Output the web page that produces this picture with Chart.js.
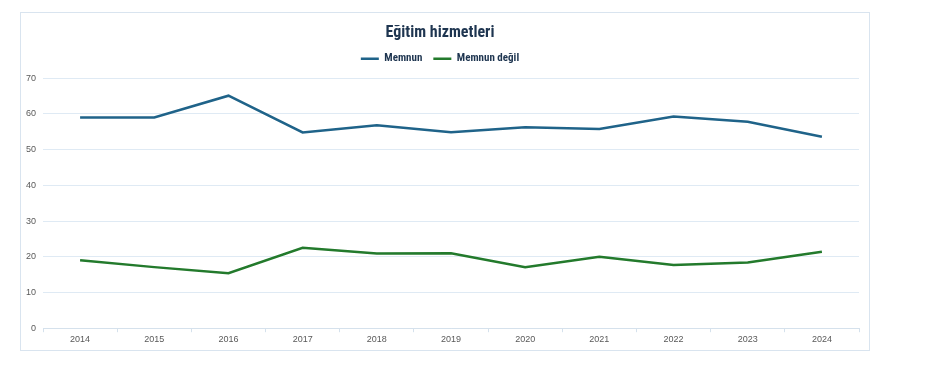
<!DOCTYPE html>
<html>
<head>
<meta charset="utf-8">
<script src="https://cdn.jsdelivr.net/npm/chart.js@4.4.1/dist/chart.umd.min.js"></script>
<style>
  html, body { margin: 0; padding: 0; background: #ffffff; }
  body { width: 948px; height: 368px; position: relative; overflow: hidden; }
  #box { position: absolute; left: 20px; top: 12px; width: 850px; height: 339px; box-sizing: border-box; border: 1px solid #d9e4ef; background: #fff; }
  #wrap { position: absolute; left: 0; top: 0; width: 848px; height: 337px; }
</style>
</head>
<body>
<div id="box"><div id="wrap"><canvas id="c" width="848" height="337"></canvas></div></div>
<script>
const chartTitle = "Eğitim hizmetleri";
const years = ["2014","2015","2016","2017","2018","2019","2020","2021","2022","2023","2024"];
const seriesNames = ["Memnun", "Memnun değil"];
const memnun = [59.0, 59.0, 65.1, 54.8, 56.8, 54.9, 56.3, 55.8, 59.3, 57.8, 53.6];
const memnunDegil = [19.0, 17.1, 15.4, 22.5, 20.9, 21.0, 17.1, 20.0, 17.7, 18.4, 21.4];
const yTicks = [0, 10, 20, 30, 40, 50, 60, 70];

const condensed = "'Liberation Sans Narrow', 'Roboto Condensed', 'DejaVu Sans Condensed', 'Arial Narrow', sans-serif";
const tickFont = "'Liberation Sans', Arial, sans-serif";

const legendGap = {
  id: 'legendGap',
  afterInit(chart) {
    const lg = chart.legend;
    if (!lg) return;
    const orig = lg.fit;
    lg.fit = function () { orig.call(this); this.height += 4; };
  }
};

new Chart(document.getElementById('c'), {
  type: 'line',
  data: {
    labels: years,
    datasets: [
      { label: seriesNames[0], data: memnun, borderColor: '#1f6389', backgroundColor: '#1f6389', borderWidth: 2.5, pointRadius: 0, tension: 0 },
      { label: seriesNames[1], data: memnunDegil, borderColor: '#237a2c', backgroundColor: '#237a2c', borderWidth: 2.5, pointRadius: 0, tension: 0 }
    ]
  },
  options: {
    responsive: false,
    animation: false,
    layout: { padding: { left: 0, right: 10, top: 8, bottom: 3 } },
    plugins: {
      title: {
        display: true, text: chartTitle, color: '#1e3550',
        font: { family: condensed, size: 16, weight: 'bold' },
        padding: { top: 2, bottom: 0 }
      },
      legend: {
        display: true, position: 'top',
        labels: {
          usePointStyle: true, pointStyle: 'line', pointStyleWidth: 18,
          color: '#1e3550', font: { family: condensed, size: 11, weight: 'bold' },
          padding: 11, boxHeight: 8
        }
      },
      tooltip: { enabled: false }
    },
    scales: {
      x: {
        offset: true,
        grid: { display: true, drawOnChartArea: false, offset: true, tickLength: 4, color: '#d5e1ec' },
        border: { display: true, color: '#d5e1ec' },
        ticks: { color: '#595959', font: { family: tickFont, size: 9 }, padding: 2, maxRotation: 0 }
      },
      y: {
        min: 0, max: 70,
        afterBuildTicks: (s) => { s.ticks = yTicks.map(v => ({ value: v })); },
        afterFit: (s) => { s.width = 22; },
        grid: { color: '#dfeaf4', drawTicks: false, lineWidth: 1 },
        border: { display: false },
        ticks: { color: '#595959', font: { family: tickFont, size: 9 }, padding: 7 }
      }
    }
  },
  plugins: [legendGap]
});
</script>
</body>
</html>
